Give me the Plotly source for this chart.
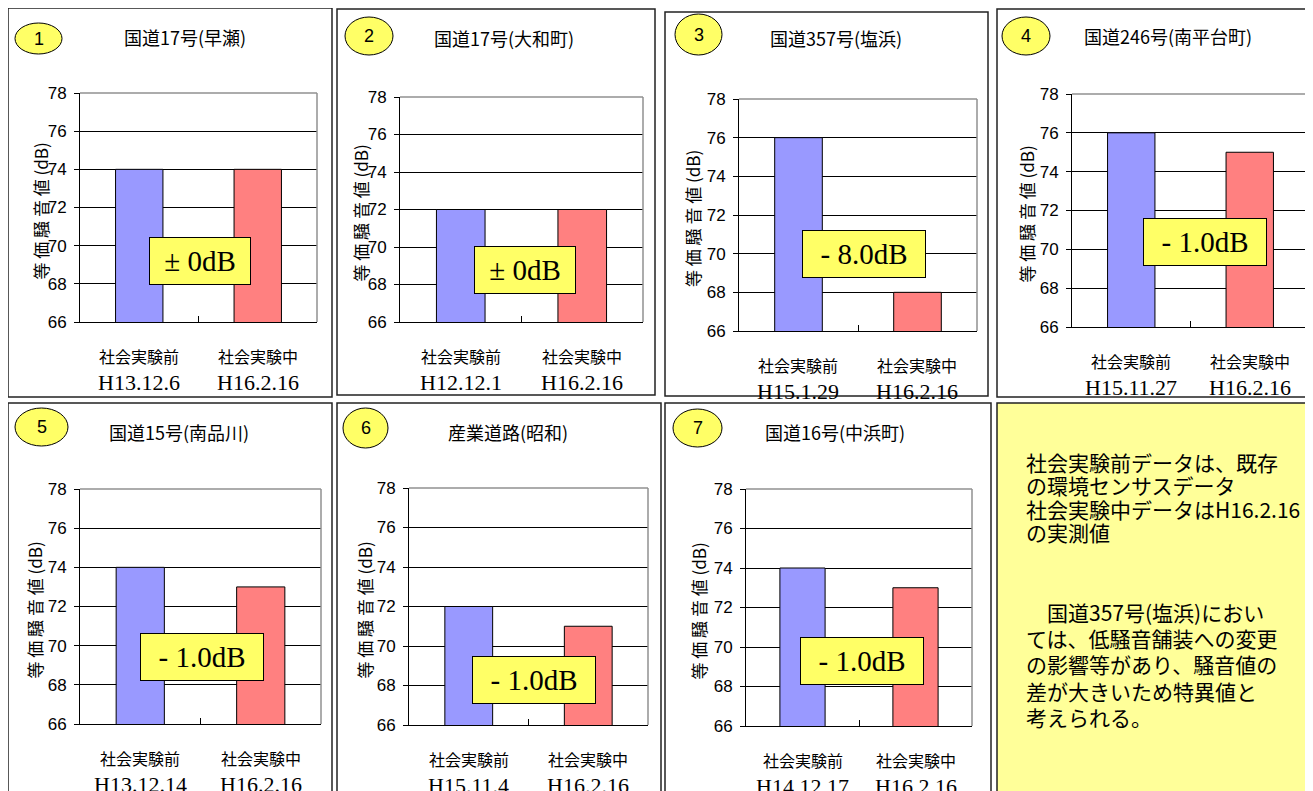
import plotly.graph_objects as go

W, H = 1313, 791
OFF = 8  # page body margin of the html page

# ---------------- data ----------------
categories = ["社会実験前", "社会実験中"]
titles = ["国道17号(早瀬)", "国道17号(大和町)", "国道357号(塩浜)", "国道246号(南平台町)",
          "国道15号(南品川)", "産業道路(昭和)", "国道16号(中浜町)"]
numbers = ["1", "2", "3", "4", "5", "6", "7"]
before_values = [74, 72, 76, 76, 74, 72, 74]
after_values = [74, 72, 68, 75, 73, 71, 73]
before_dates = ["H13.12.6", "H12.12.1", "H15.1.29", "H15.11.27", "H13.12.14", "H15.11.4", "H14.12.17"]
after_dates = ["H16.2.16", "H16.2.16", "H16.2.16", "H16.2.16", "H16.2.16", "H16.2.16", "H16.2.16"]
diff_labels = ["± 0dB", "± 0dB", "- 8.0dB", "- 1.0dB", "- 1.0dB", "- 1.0dB", "- 1.0dB"]
y_ticks = [66, 68, 70, 72, 74, 76, 78]
y_title = "等 価 騒 音 値 (dB)"
note_para1 = ["社会実験前データは、既存", "の環境センサスデータ", "社会実験中データはH16.2.16", "の実測値"]
note_para2 = ["\u3000国道357号(塩浜)におい", "ては、低騒音舗装への変更", "の影響等があり、騒音値の",
              "差が大きいため特異値と", "考えられる。"]

# ---------------- layout geometry (pixels on the page) ----------------
panels = [
    dict(box=(8, 8, 332, 397), plot=(80, 317, 93, 322), title=(185, 37), oval=(15, 23, 62, 54), diff=(0.506, 69.2), ytx=-40),
    dict(box=(337, 9, 655, 395), plot=(400, 643, 97, 322), title=(504, 38), oval=(345, 17, 393, 55), diff=(0.515, 68.8), ytx=-40),
    dict(box=(665, 12, 988, 396), plot=(739, 977, 99, 331), title=(836, 38), oval=(675, 14, 722, 55), diff=(0.525, 70.0), ytx=-47),
    dict(box=(997, 9, 1330, 397), plot=(1072, 1309, 94, 327), title=(1168, 36), oval=(1002, 17, 1050, 55), diff=(0.561, 70.4), ytx=-46),
    dict(box=(8, 403, 332, 805), plot=(80, 321, 489, 724), title=(179, 432), oval=(15, 408, 68, 446), diff=(0.506, 69.4), ytx=-46),
    dict(box=(337, 403, 661, 805), plot=(409, 648, 488, 725), title=(508, 432), oval=(343, 408, 388, 448), diff=(0.523, 68.3), ytx=-45),
    dict(box=(665, 403, 991, 805), plot=(746, 972, 489, 726), title=(835, 432), oval=(673, 409, 722, 447), diff=(0.513, 69.3), ytx=-48),
]
note_box = (997, 403, 1330, 805)

BLUE = "#9999FF"
RED = "#FF8080"
YEL = "#FFFF66"
NOTE_BG = "#FFFF99"
JP = "Noto Sans CJK JP"
NARROW = "Liberation Sans Narrow, Arial Narrow, Liberation Sans"
SERIF = "Liberation Serif, Times New Roman"


def px(x):
    return (x - OFF) / W


def py(y):
    return 1 - (y - OFF) / H


fig = go.Figure()
shapes = []
annotations = []
layout = dict(width=W, height=H, margin=dict(l=0, r=0, t=0, b=0, pad=0, autoexpand=False),
              paper_bgcolor="white", plot_bgcolor="white", showlegend=False,
              bargap=0.6)

for i, p in enumerate(panels):
    n = i + 1
    sfx = "" if n == 1 else str(n)
    xa, ya = "x" + sfx, "y" + sfx
    x0, x1, yt, yb = p["plot"]

    fig.add_trace(go.Bar(x=categories, y=[before_values[i], after_values[i]],
                         marker=dict(color=[BLUE, RED], line=dict(color="black", width=1)),
                         xaxis=xa, yaxis=ya, hoverinfo="skip"))

    layout["xaxis" + sfx] = dict(domain=[px(x0), px(x1)], anchor=ya, type="category",
                                 automargin=False,
                                 showticklabels=False, showgrid=False, showline=True,
                                 linecolor="black", linewidth=1, ticks="inside",
                                 tickson="boundaries", ticklen=6, tickcolor="black",
                                 fixedrange=True)
    layout["yaxis" + sfx] = dict(domain=[py(yb), py(yt)], anchor=xa, range=[66, 78],
                                 automargin=False,
                                 tickvals=y_ticks, showgrid=True, gridcolor="black",
                                 gridwidth=1, showline=True, linecolor="black", linewidth=1,
                                 ticks="outside", ticklen=5, tickcolor="black",
                                 ticklabelstandoff=4,
                                 tickfont=dict(family=NARROW, size=17, color="black"),
                                 zeroline=False, fixedrange=True)

    # gray top/right frame of plot area
    shapes.append(dict(type="line", xref=xa + " domain", yref=ya + " domain",
                       x0=0, x1=1, y0=1, y1=1, line=dict(color="#909090", width=1.5), layer="above"))
    shapes.append(dict(type="line", xref=xa + " domain", yref=ya + " domain",
                       x0=1, x1=1, y0=0, y1=1, line=dict(color="#909090", width=1.5), layer="above"))

    # panel border
    bx0, by0, bx1, by1 = p["box"]
    shapes.append(dict(type="rect", xref="paper", yref="paper", x0=px(bx0), x1=px(bx1),
                       y0=py(by1), y1=py(by0), line=dict(color="#222222", width=1.5)))

    # number oval
    ox0, oy0, ox1, oy1 = p["oval"]
    shapes.append(dict(type="circle", xref="paper", yref="paper", x0=px(ox0), x1=px(ox1),
                       y0=py(oy1), y1=py(oy0), fillcolor=YEL, line=dict(color="black", width=1)))
    annotations.append(dict(text=numbers[i], xref="paper", yref="paper",
                            x=px((ox0 + ox1) / 2), y=py((oy0 + oy1) / 2), showarrow=False,
                            xanchor="center", yanchor="middle",
                            font=dict(family=NARROW, size=18, color="black")))

    # panel title
    tx, ty = p["title"]
    annotations.append(dict(text=titles[i], xref="paper", yref="paper", x=px(tx), y=py(ty),
                            showarrow=False, xanchor="center", yanchor="middle",
                            font=dict(family=JP, size=18, color="black")))

    # y-axis title
    annotations.append(dict(text=y_title, xref="paper", yref="paper",
                            x=px(x0 + p["ytx"]), y=py((yt + yb) / 2 + 4), textangle=-90,
                            showarrow=False, xanchor="center", yanchor="middle",
                            font=dict(family=JP, size=17, color="black")))

    # category labels with dates
    dates = [before_dates[i], after_dates[i]]
    for c, cat in enumerate(categories):
        annotations.append(dict(text=cat, xref=xa, yref="paper", x=cat, y=py(yb + 34),
                                showarrow=False, xanchor="center", yanchor="middle",
                                font=dict(family=JP, size=16, color="black")))
        annotations.append(dict(text=dates[c], xref=xa, yref="paper", x=cat, y=py(yb + 60),
                                showarrow=False, xanchor="center", yanchor="middle",
                                font=dict(family=SERIF, size=22, color="black")))

    # difference box
    dfx, dfy = p["diff"]
    wbox = 98 if diff_labels[i].startswith("±") else 120
    annotations.append(dict(text=diff_labels[i], xref=xa + " domain", yref=ya, x=dfx, y=dfy,
                            showarrow=False, xanchor="center", yanchor="middle",
                            width=wbox, height=44, bgcolor=YEL, bordercolor="black",
                            borderwidth=1, borderpad=1, align="center",
                            font=dict(family=SERIF, size=29, color="black")))

# note box
nx0, ny0, nx1, ny1 = note_box
shapes.append(dict(type="rect", xref="paper", yref="paper", x0=px(nx0), x1=px(nx1),
                   y0=py(ny1), y1=py(ny0), fillcolor=NOTE_BG, line=dict(color="#222222", width=1.5),
                   layer="below"))
for k, line in enumerate(note_para1):
    annotations.append(dict(text=line, xref="paper", yref="paper", x=px(1024), y=py(462 + 23.3 * k),
                            showarrow=False, xanchor="left", yanchor="middle",
                            font=dict(family=JP, size=21, color="black")))
for k, line in enumerate(note_para2):
    annotations.append(dict(text=line, xref="paper", yref="paper", x=px(1024), y=py(612 + 26.2 * k),
                            showarrow=False, xanchor="left", yanchor="middle",
                            font=dict(family=JP, size=21, color="black")))

layout["shapes"] = shapes
layout["annotations"] = annotations
fig.update_layout(**layout)
fig.write_html("out.html")
